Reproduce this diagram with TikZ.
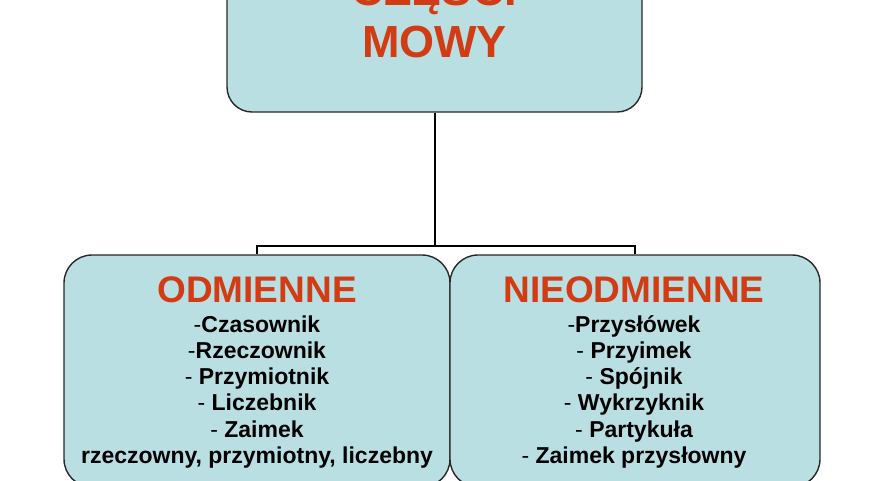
\documentclass[tikz,border=0pt]{standalone}
\usepackage{fontspec}
\setmainfont{Liberation Sans}
\definecolor{boxfill}{RGB}{186,223,226}
\definecolor{titlered}{RGB}{210,60,20}
\definecolor{boxline}{RGB}{40,40,40}
\begin{document}
\begin{tikzpicture}[x=1pt,y=-1pt,
  box/.style={draw=boxline,line width=1.4pt,fill=boxfill,rounded corners=28pt,inner sep=0pt},
  conn/.style={draw=black,line width=2pt},
  ttl/.style={text=titlered,font=\fontsize{37}{40}\selectfont\bfseries,inner sep=0pt,anchor=base},
  lst/.style={text=black,font=\fontsize{23}{26.3}\selectfont\bfseries,align=center,inner sep=0pt,anchor=base}
]
\useasboundingbox (0,0) rectangle (880,480);
\clip (0,0) rectangle (880,480);
% top box
\node[box,rounded corners=25pt,minimum width=415pt,minimum height=172pt] (top) at (434.5,26) {};
\node[text=titlered,font=\fontsize{45}{52}\selectfont\bfseries,align=center,inner sep=0pt,anchor=base] (toptxt) at (434.5,57) {CZĘŚCI\\MOWY};
% lower boxes
\node[box,minimum width=386pt,minimum height=232pt] (left) at (257,371) {};
\node[box,minimum width=370pt,minimum height=232pt] (right) at (635,371) {};
% connectors
\coordinate (junc) at (top.south |- 0,246);
\draw[conn] (top.south) -- (junc);
\draw[conn] (left.north) -- (left.north |- junc) -- (right.north |- junc) -- (right.north);
% texts
\node[ttl] (lt) at (257,302) {ODMIENNE};
\node[lst] (ll) at (257,463.5) {\textmd{-}Czasownik\\\textmd{-}Rzeczownik\\\textmd{-} Przymiotnik\\\textmd{-} Liczebnik\\\textmd{-} Zaimek\\rzeczowny, przymiotny, liczebny};
\node[ttl] (rt) at (634,302) {NIEODMIENNE};
\node[lst] (rl) at (634,463.5) {\textmd{-}Przysłówek\\\textmd{-} Przyimek\\\textmd{-} Spójnik\\\textmd{-} Wykrzyknik\\\textmd{-} Partykuła\\\textmd{-} Zaimek przysłowny};
\end{tikzpicture}
\end{document}
